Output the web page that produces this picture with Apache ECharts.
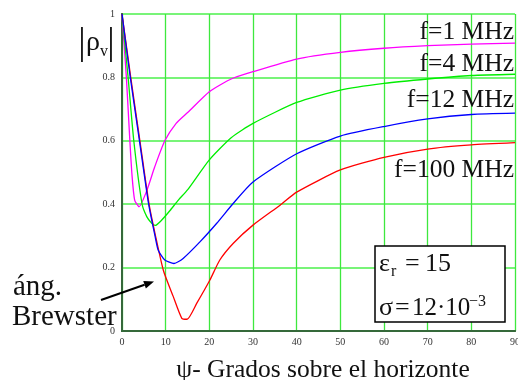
<!DOCTYPE html>
<html>
<head>
<meta charset="utf-8">
<script src="https://cdn.jsdelivr.net/npm/echarts@6/dist/echarts.min.js"></script>
<style>
  html, body { margin: 0; padding: 0; background: #fff; }
  #chart { width: 518px; height: 380px; }
</style>
</head>
<body>
<div id="chart"></div>
<script>
// Elevation angle (degrees) and |rho_v| for each frequency
const psi1   = [0, 1.0, 1.8, 2.3, 2.9, 3.9, 5.6, 7.5, 9.8, 12.4, 15.1, 20, 25, 30, 40, 50, 60, 70, 80, 90];
const rho1   = [1, 0.80, 0.60, 0.49, 0.413, 0.392, 0.44, 0.518, 0.60, 0.655, 0.69, 0.755, 0.795, 0.818, 0.858, 0.879, 0.892, 0.900, 0.905, 0.908];

const psi4   = [0, 1.4, 2.7, 4.6, 5.7, 6.8, 7.6, 9.1, 11, 12.9, 15, 20, 25, 30, 40, 50, 60, 70, 80, 90];
const rho4   = [1, 0.80, 0.60, 0.40, 0.36, 0.34, 0.333, 0.35, 0.38, 0.413, 0.445, 0.54, 0.61, 0.655, 0.721, 0.760, 0.781, 0.795, 0.806, 0.81];

const psi12  = [0, 1.9, 4.0, 6.1, 7.6, 8.3, 9.8, 11.9, 14, 17.9, 21.7, 25.5, 30, 40, 50, 60, 70, 80, 90];
const rho12  = [1, 0.80, 0.60, 0.40, 0.297, 0.255, 0.224, 0.213, 0.229, 0.282, 0.34, 0.403, 0.47, 0.559, 0.615, 0.645, 0.669, 0.683, 0.687];

const psi100 = [0, 2.0, 4.1, 6.2, 7.6, 9.5, 11.7, 13.7, 14.9, 17.1, 20.1, 22.4, 25.5, 30, 36.2, 40, 50, 60, 70, 80, 90];
const rho100 = [1, 0.80, 0.60, 0.40, 0.305, 0.19, 0.11, 0.04, 0.037, 0.087, 0.16, 0.224, 0.277, 0.334, 0.397, 0.438, 0.508, 0.548, 0.574, 0.587, 0.594];

const freqLabels = ['f=1 MHz', 'f=4 MHz', 'f=12 MHz', 'f=100 MHz'];
const lineColors = ['#ff00ff', '#00ee00', '#0000ff', '#ff0000'];

const xTicks = { min: 0, max: 90, step: 10 };
const yTicks = { min: 0, max: 1, step: 0.2 };

const SERIF = "'Liberation Serif', 'Times New Roman', serif";
const FRAME = '#35693a';

function pairs(xs, ys) {
  return xs.map((x, i) => [x, ys[i]]);
}

function curve(name, xs, ys, color, z) {
  return {
    name: name,
    type: 'line',
    data: pairs(xs, ys),
    showSymbol: false,
    smooth: 0.2,
    z: z,
    lineStyle: { color: color, width: 1.3 },
    silent: true
  };
}

function txt(x, y, text, size, align, extra) {
  return Object.assign({
    type: 'text',
    x: x, y: y,
    silent: true,
    style: {
      text: text,
      fontFamily: SERIF,
      fontSize: size,
      fill: '#111',
      align: align || 'left',
      verticalAlign: 'middle'
    }
  }, extra || {});
}

const chart = echarts.init(document.getElementById('chart'), null, { renderer: 'canvas' });

// Arrow pointing at the Brewster-angle region
const tail = [101, 300], tip = [154, 281.5];
const dx = tip[0] - tail[0], dy = tip[1] - tail[1];
const len = Math.hypot(dx, dy), ux = dx / len, uy = dy / len;
const headL = 10, headW = 4;
const base = [tip[0] - ux * headL, tip[1] - uy * headL];

const option = {
  backgroundColor: '#fff',
  animation: false,
  grid: { left: 122, right: 3, top: 14, bottom: 49, containLabel: false, outerBoundsMode: 'none' },
  xAxis: [{
    type: 'value',
    min: xTicks.min, max: xTicks.max, interval: xTicks.step,
    axisLine: { show: true, lineStyle: { color: FRAME, width: 2 } },
    axisTick: { show: false },
    axisLabel: { fontFamily: SERIF, fontSize: 10, color: '#333', margin: 6 },
    splitLine: { show: true, lineStyle: { color: '#3ee83e', width: 1.3 } }
  }, {
    type: 'value', position: 'top',
    min: xTicks.min, max: xTicks.max, interval: xTicks.step,
    axisLine: { show: true, lineStyle: { color: FRAME, width: 2 } },
    axisTick: { show: false }, axisLabel: { show: false }, splitLine: { show: false }
  }],
  yAxis: [{
    type: 'value',
    min: yTicks.min, max: yTicks.max, interval: yTicks.step,
    axisLine: { show: true, lineStyle: { color: FRAME, width: 2 } },
    axisTick: { show: false },
    axisLabel: { fontFamily: SERIF, fontSize: 10, color: '#333', margin: 7 },
    splitLine: { show: true, lineStyle: { color: '#78f478', width: 2 } }
  }, {
    type: 'value', position: 'right',
    min: yTicks.min, max: yTicks.max, interval: yTicks.step,
    axisLine: { show: true, lineStyle: { color: FRAME, width: 2 } },
    axisTick: { show: false }, axisLabel: { show: false }, splitLine: { show: false }
  }],
  series: [
    curve(freqLabels[0], psi1, rho1, lineColors[0], 2),
    curve(freqLabels[1], psi4, rho4, lineColors[1], 3),
    curve(freqLabels[3], psi100, rho100, lineColors[3], 4),
    curve(freqLabels[2], psi12, rho12, lineColors[2], 5)
  ],
  graphic: [
    // curve labels
    txt(514, 32, freqLabels[0], 25.5, 'right', { z: 10 }),
    txt(514, 64, freqLabels[1], 25.5, 'right', { z: 10 }),
    txt(514, 100.5, freqLabels[2], 25.5, 'right', { z: 10 }),
    txt(514, 170.5, freqLabels[3], 25.5, 'right', { z: 10 }),

    // y-axis title |rho_v|
    txt(82, 44, '|', 37, 'center', { z: 10 }),
    txt(86, 43, 'ρ', 28, 'left', { z: 10 }),
    txt(100, 52, 'v', 16, 'left', { z: 10 }),
    txt(111, 44, '|', 37, 'center', { z: 10 }),

    // x-axis title
    txt(323, 370, 'ψ- Grados sobre el horizonte', 25.5, 'center', { z: 10 }),

    // Brewster annotation
    txt(13, 287, 'áng.', 29, 'left', { z: 10 }),
    txt(12, 317, 'Brewster', 29, 'left', { z: 10 }),
    {
      type: 'line', silent: true, z: 10,
      shape: { x1: tail[0], y1: tail[1], x2: base[0], y2: base[1] },
      style: { stroke: '#000', lineWidth: 2 }
    },
    {
      type: 'polygon', silent: true, z: 10,
      shape: { points: [
        tip,
        [base[0] - uy * headW, base[1] + ux * headW],
        [base[0] + uy * headW, base[1] - ux * headW]
      ] },
      style: { fill: '#000' }
    },

    // parameter box
    {
      type: 'rect', silent: true, z: 10,
      shape: { x: 375, y: 246, width: 130, height: 76 },
      style: { fill: '#fff', stroke: '#000', lineWidth: 1.5 }
    },
    txt(379, 264, 'ε', 26, 'left', { z: 11 }),
    txt(391, 272, 'r', 16, 'left', { z: 11 }),
    txt(405, 264, '=', 26, 'left', { z: 11 }),
    txt(425, 264, '15', 26, 'left', { z: 11 }),
    txt(379, 308, 'σ', 26, 'left', { z: 11 }),
    txt(395, 308, '=', 26, 'left', { z: 11 }),
    txt(412, 308, '12·10', 25, 'left', { z: 11 }),
    txt(469, 302, '−3', 16, 'left', { z: 11 })
  ]
};

chart.setOption(option);
</script>
</body>
</html>
